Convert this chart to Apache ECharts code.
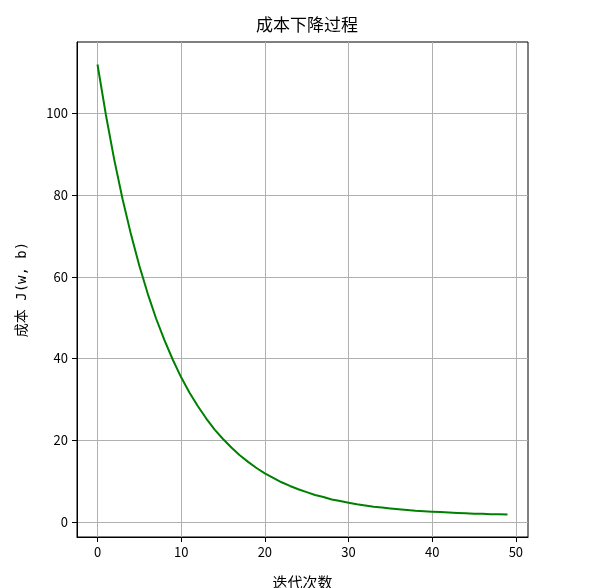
<!DOCTYPE html>
<html>
<head>
<meta charset="utf-8">
<script src="https://cdn.jsdelivr.net/npm/echarts@6/dist/echarts.min.js"></script>
<style>
html,body{margin:0;padding:0;background:#fff;}
#chart{width:594px;height:588px;}
</style>
</head>
<body>
<div id="chart"></div>
<script>
const titleText = '成本下降过程';
const xName = '迭代次数';
const yName = '成本 J(w, b)';
const iterations = [0,1,2,3,4,5,6,7,8,9,10,11,12,13,14,15,16,17,18,19,20,21,22,23,24,25,26,27,28,29,30,31,32,33,34,35,36,37,38,39,40,41,42,43,44,45,46,47,48,49];
const costValues = [112.0,99.7,88.7,79.0,70.4,62.7,55.9,49.8,44.5,39.7,35.4,31.6,28.3,25.3,22.6,20.3,18.2,16.3,14.7,13.2,11.9,10.8,9.7,8.8,8.0,7.3,6.6,6.1,5.5,5.1,4.7,4.3,4.0,3.7,3.5,3.3,3.1,2.9,2.7,2.6,2.5,2.4,2.3,2.2,2.1,2.0,2.0,1.9,1.9,1.8];
const xTicks = [0,10,20,30,40,50];
const yTicks = [0,20,40,60,80,100];

const font = '"Noto Sans CJK SC", "DejaVu Sans", sans-serif';
const monoFont = '"DejaVu Sans Mono", "Noto Sans CJK SC", monospace';
const chart = echarts.init(document.getElementById('chart'), null, {renderer:'canvas'});
chart.setOption({
  animation:false,
  backgroundColor:'#fff',
  title:{text:titleText,left:302,textAlign:'center',top:11,
    textStyle:{fontFamily:font,fontSize:17,fontWeight:'normal',color:'#000'}},
  grid:{left:77,right:66,top:42,bottom:51,outerBoundsMode:'none',containLabel:false,
    show:true,borderColor:'#000',borderWidth:1,backgroundColor:'transparent'},
  xAxis:{type:'value',min:-2.45,max:51.45,
    name:xName,nameLocation:'middle',nameGap:38,
    nameTextStyle:{fontFamily:font,fontSize:15,color:'#000'},
    axisLine:{show:true,onZero:false,lineStyle:{color:'#000',width:1}},
    axisTick:{show:true,length:5,lineStyle:{color:'#000'},customValues:xTicks},
    axisLabel:{fontFamily:font,fontSize:13,color:'#000',margin:9,customValues:xTicks},
    splitLine:{show:true,lineStyle:{color:'#b0b0b0',width:1}}},
  yAxis:{type:'value',min:-3.7,max:117.5,
    name:yName,nameLocation:'middle',nameGap:48,nameRotate:90,
    nameTextStyle:{fontFamily:monoFont,fontSize:14,color:'#000'},
    axisLine:{show:true,onZero:false,lineStyle:{color:'#000',width:1}},
    axisTick:{show:true,length:5,lineStyle:{color:'#000'},customValues:yTicks},
    axisLabel:{fontFamily:font,fontSize:13,color:'#000',margin:9,customValues:yTicks},
    splitLine:{show:true,lineStyle:{color:'#b0b0b0',width:1}}},
  series:[{type:'line',data:iterations.map((x,i)=>[x,costValues[i]]),
    showSymbol:false,smooth:false,
    lineStyle:{color:'#008000',width:2},itemStyle:{color:'#008000'}}]
});
</script>
</body>
</html>
